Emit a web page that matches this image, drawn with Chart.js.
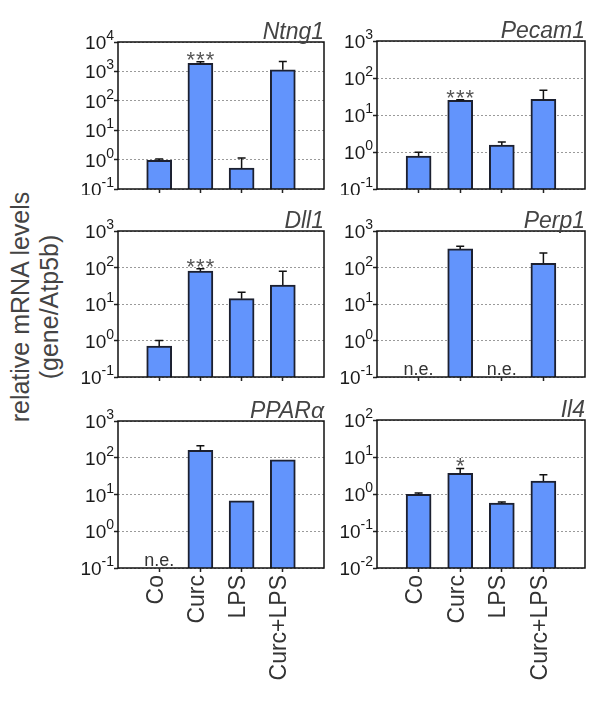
<!DOCTYPE html>
<html>
<head>
<meta charset="utf-8">
<script src="https://cdn.jsdelivr.net/npm/chart.js@4.4.1/dist/chart.umd.min.js"></script>
<style>
    html, body { margin: 0; padding: 0; background: #fff; }
    #page { position: relative; width: 600px; height: 705px; overflow: hidden; font-family: "Liberation Sans", Arial, sans-serif; }
    canvas { position: absolute; }
    #yTitle {
        position: absolute; width: 300px; left: -115px; top: 278px;
        text-align: center; font-size: 25px; line-height: 29px; color: #444;
        transform: rotate(-90deg);
    }
</style>
</head>
<body>
<div id="page">
    <div id="yTitle">relative mRNA levels<br>(gene/Atp5b)</div>
</div>
<script>
// Data
const categories = ['Co', 'Curc', 'LPS', 'Curc+LPS'];

const ntng1Means = [0.95, 1870, 0.51, 1140];
const ntng1Upper = [1.05, 2130, 1.14, 2190];
const ntng1Stars = ['', '***', '', ''];
const ntng1Ticks = [0.1, 1, 10, 100, 1000, 10000];

const pecam1Means = [0.78, 24.9, 1.55, 26.5];
const pecam1Upper = [0.98, 26, 1.86, 47];
const pecam1Stars = ['', '***', '', ''];
const pecam1Ticks = [0.1, 1, 10, 100, 1000];

const dll1Means = [0.7, 79.5, 14, 33];
const dll1Upper = [1.0, 92, 21, 79];
const dll1Stars = ['', '***', '', ''];
const dll1Ticks = [0.1, 1, 10, 100, 1000];

const perp1Means = [null, 323, null, 131];
const perp1Upper = [null, 383, null, 251];
const perp1Stars = ['', '', '', ''];
const perp1Ticks = [0.1, 1, 10, 100, 1000];

const pparaMeans = [null, 158, 6.7, 88];
const pparaUpper = [null, 211, null, null];
const pparaStars = ['', '', '', ''];
const pparaTicks = [0.1, 1, 10, 100, 1000];

const il4Means = [0.98, 3.6, 0.57, 2.25];
const il4Upper = [1.06, 4.9, 0.61, 3.3];
const il4Stars = ['', '*', '', ''];
const il4Ticks = [0.01, 0.1, 1, 10, 100];

const FONT = '"Liberation Sans", Arial, sans-serif';
const BAR_FILL = '#6294fc';
const BAR_EDGE = '#1c2030';

// box = plot area, band = canvas rectangle (page px)
const panels = [
    { name: 'Ntng1', means: ntng1Means, upper: ntng1Upper, stars: ntng1Stars, ticks: ntng1Ticks, box: [118, 42, 324, 189], band: [60, 0, 330, 195], showX: false },
    { name: 'Pecam1', means: pecam1Means, upper: pecam1Upper, stars: pecam1Stars, ticks: pecam1Ticks, box: [377, 41, 585, 189], band: [320, 0, 600, 195], showX: false },
    { name: 'Dll1', means: dll1Means, upper: dll1Upper, stars: dll1Stars, ticks: dll1Ticks, box: [118, 231, 324, 377], band: [60, 195, 330, 385], showX: false },
    { name: 'Perp1', means: perp1Means, upper: perp1Upper, stars: perp1Stars, ticks: perp1Ticks, box: [377, 231, 585, 377], band: [320, 195, 600, 385], showX: false },
    { name: 'PPARα', means: pparaMeans, upper: pparaUpper, stars: pparaStars, ticks: pparaTicks, box: [118, 421, 324, 568], band: [60, 385, 330, 705], showX: true },
    { name: 'Il4', means: il4Means, upper: il4Upper, stars: il4Stars, ticks: il4Ticks, box: [377, 420, 585, 568], band: [320, 385, 600, 705], showX: true },
];

const panelDecor = {
    id: 'panelDecor',
    afterDatasetsDraw(chart, args, opts) {
        const { ctx, scales: { x, y } } = chart;
        const p = opts.panel;
        ctx.save();
        ctx.strokeStyle = '#111';
        ctx.lineWidth = 1.5;
        p.means.forEach((m, i) => {
            const top = p.upper[i];
            if (m == null || top == null) return;
            const px = x.getPixelForValue(i + 1);
            const y0 = y.getPixelForValue(m);
            const y1 = y.getPixelForValue(top);
            ctx.beginPath();
            ctx.moveTo(px, y0);
            ctx.lineTo(px, y1);
            ctx.moveTo(px - 4, y1);
            ctx.lineTo(px + 4, y1);
            ctx.stroke();
        });
        ctx.restore();
    },
    afterDraw(chart, args, opts) {
        const { ctx, chartArea: a, scales: { x, y } } = chart;
        const p = opts.panel;
        ctx.save();

        // frame
        ctx.strokeStyle = '#111';
        ctx.lineWidth = 1.5;
        ctx.strokeRect(a.left, a.top, a.right - a.left, a.bottom - a.top);

        // y tick labels 10^n
        ctx.fillStyle = '#1a1a1a';
        p.ticks.forEach((v) => {
            const py = y.getPixelForValue(v);
            const exp = String(Math.round(Math.log10(v)));
            ctx.font = '14px ' + FONT;
            const ew = ctx.measureText(exp).width;
            const right = a.left - 4;
            ctx.textAlign = 'left';
            ctx.textBaseline = 'alphabetic';
            ctx.fillText(exp, right - ew, py - 2);
            ctx.font = '19px ' + FONT;
            ctx.textAlign = 'right';
            ctx.fillText('10', right - ew, py + 7);
        });

        // gene title
        ctx.font = 'italic 23px ' + FONT;
        ctx.fillStyle = '#444';
        ctx.textAlign = 'right';
        ctx.textBaseline = 'alphabetic';
        ctx.fillText(p.name, a.right, a.top - 3);

        // significance stars and n.e. labels
        ctx.textAlign = 'center';
        p.means.forEach((m, i) => {
            const px = x.getPixelForValue(i + 1);
            if (m == null) {
                ctx.font = '18px ' + FONT;
                ctx.fillStyle = '#333';
                ctx.fillText('n.e.', px, a.bottom - 2);
                return;
            }
            if (p.stars[i]) {
                const top = p.upper[i] != null ? p.upper[i] : m;
                ctx.font = '22px ' + FONT;
                ctx.fillStyle = '#555';
                ctx.letterSpacing = '1px';
                ctx.fillText(p.stars[i], px + 0.5, y.getPixelForValue(top) + 5);
                ctx.letterSpacing = '0px';
            }
        });
        ctx.restore();
    },
};

const page = document.getElementById('page');

panels.forEach((p) => {
    const [bl, bt, br, bb] = p.box;
    const [cl, ct, cr, cb] = p.band;
    const canvas = document.createElement('canvas');
    canvas.width = cr - cl;
    canvas.height = cb - ct;
    canvas.style.left = cl + 'px';
    canvas.style.top = ct + 'px';
    canvas.style.width = (cr - cl) + 'px';
    canvas.style.height = (cb - ct) + 'px';
    page.appendChild(canvas);

    // eslint-disable-next-line no-new
    new Chart(canvas, {
        type: 'bar',
        data: {
            labels: ['', ...categories, ''],
            datasets: [{
                data: [null, ...p.means, null],
                backgroundColor: BAR_FILL,
                borderColor: BAR_EDGE,
                borderWidth: 2,
                borderSkipped: 'start',
                barThickness: 25,
            }],
        },
        options: {
            responsive: false,
            animation: false,
            devicePixelRatio: 1,
            layout: { padding: { left: 0, top: bt - ct, right: cr - br, bottom: 0 } },
            plugins: {
                legend: { display: false },
                tooltip: { enabled: false },
                panelDecor: { panel: p },
            },
            scales: {
                x: {
                    offset: false,
                    grid: {
                        offset: false,
                        drawOnChartArea: false,
                        tickLength: 4,
                        tickWidth: 1.5,
                        tickColor: (c) => (c.index === 0 || c.index === 5 ? 'rgba(0,0,0,0)' : '#222'),
                    },
                    border: { display: false },
                    ticks: {
                        display: p.showX,
                        autoSkip: false,
                        minRotation: 90,
                        maxRotation: 90,
                        padding: 3,
                        labelOffset: -3,
                        color: '#333',
                        font: { size: 23, family: FONT },
                    },
                    afterFit: (s) => {
                        s.height = cb - bb;
                        s.paddingLeft = 0;
                        s.paddingRight = 0;
                    },
                },
                y: {
                    type: 'logarithmic',
                    min: p.ticks[0],
                    max: p.ticks[p.ticks.length - 1],
                    afterBuildTicks: (s) => {
                        s.ticks = p.ticks.map((v) => ({ value: v }));
                    },
                    ticks: { display: false },
                    grid: {
                        color: '#9a9a9a',
                        lineWidth: 1,
                        tickLength: 4,
                        tickWidth: 1.5,
                        tickColor: '#222',
                    },
                    border: { display: false, dash: [2, 2] },
                    afterFit: (s) => {
                        s.width = bl - cl;
                        s.paddingTop = 0;
                        s.paddingBottom = 0;
                    },
                },
            },
        },
        plugins: [panelDecor],
    });
});
</script>
</body>
</html>
